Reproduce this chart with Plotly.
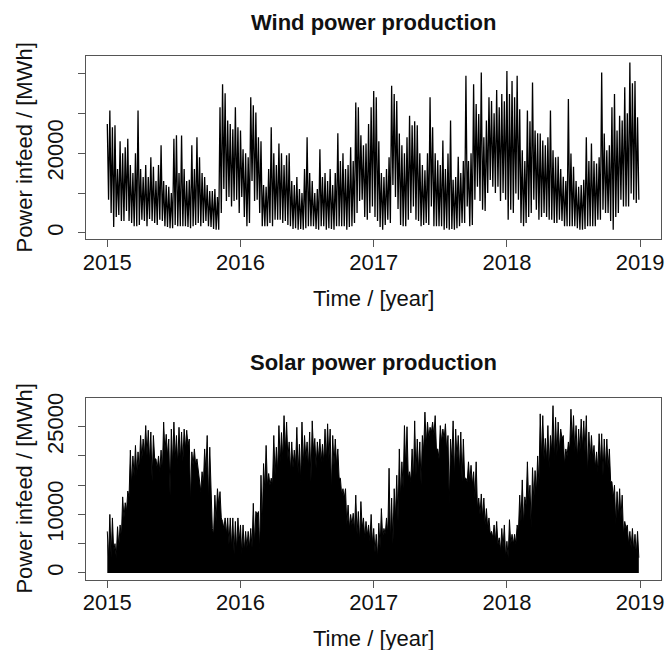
import numpy as np
import plotly.graph_objects as go

# Weekly peak / trough of hourly power infeed, in thousand MWh (52 weeks per year, 2015-2018)
START_YEAR = 2015
WEEKS_PER_YEAR = 52

wind_high = [
    27.3, 30.7, 26.5, 27.0, 16, 23, 20, 21.5, 23.6, 17, 15, 20, 30.7, 16, 14, 17, 14, 19, 16.6, 13,
    17, 22, 13, 12, 11.6, 10, 23.6, 24.5, 15, 24.4, 16, 13, 13.3, 22, 16, 24, 19, 15, 14, 12,
    10.5, 10.5, 11, 9, 31.5, 37.3, 35, 28.2, 27.3, 26, 31.5, 26.5,
    25.7, 21, 20, 19, 34, 32, 30.2, 24, 23, 12, 11.6, 16, 26.5, 20, 17, 22.4, 20, 17, 19.5, 20,
    13, 12, 14, 11, 10, 16, 24, 15, 13, 10, 11, 21, 14, 15, 13, 16, 12, 15, 25, 18,
    20, 16, 17, 21.5, 18, 32.7, 31.5, 24.5, 22, 22.4, 27.3, 31.5,
    35.6, 34, 23, 15, 14, 16, 19, 36.9, 34.8, 33.1, 24.9, 22, 20, 24, 29.4, 27, 28, 27, 20, 17,
    15.7, 20, 34, 26.5, 20, 18.2, 17, 23.2, 16, 19.9, 28.2, 13.3, 14, 19.1, 15, 18, 39.4, 18, 20, 37.3,
    32.3, 29.8, 40.2, 24, 28.2, 34, 33.1, 30, 35.8, 31.5, 34.8, 33,
    40.6, 34.8, 38.1, 34, 39.4, 31, 20.7, 18, 30.7, 28, 37.7, 25.7, 25, 24.9, 23.2, 22, 24, 30.7, 20.7, 19,
    19.1, 16, 14.1, 13, 33.6, 19.9, 16.6, 13, 11.6, 12, 13.3, 24, 18, 22.4, 18, 17.4, 19, 40.2, 24.9, 20.7,
    22, 31.5, 34.8, 25.7, 29.4, 28.2, 36.5, 30, 42.7, 37.5, 38.1, 29,
]
wind_low = [
    8.3, 5, 1.5, 4, 4.5, 3, 3, 5.5, 3, 2.5, 1.7, 1.7, 2, 3.3, 3, 1.7, 3.5, 3, 2.5, 2,
    3.3, 3, 1.7, 1.5, 1.2, 1.2, 2, 1.7, 1.7, 1.7, 1.7, 1.5, 1.2, 1.7, 2, 2.5, 1.7, 2.5, 3, 1.7,
    1.5, 1.0, 0.8, 0.8, 5, 11, 8, 9, 6.6, 8, 8.3, 5,
    9, 4, 1.7, 2.5, 13, 8, 8.3, 5, 1.7, 1.7, 1.7, 2.5, 1.7, 3.3, 3.3, 3.3, 2.5, 3, 2, 1.7,
    1, 1.2, 0.8, 1, 0.8, 1.2, 1.7, 1.7, 1.7, 1, 0.8, 1.7, 1.7, 0.8, 1.2, 1, 0.8, 1.7, 1.7, 1.7,
    1.7, 0.8, 1.5, 1.7, 2.5, 5, 8, 8.3, 4, 3.3, 5, 6.6,
    4, 3, 1.5, 0.8, 2, 3.3, 2.5, 12, 9, 6, 2, 1.7, 1.7, 3.3, 5, 6.6, 3.3, 3, 1.7, 2,
    2.5, 2, 6.6, 1.7, 1.7, 1.7, 1.7, 0.8, 1.2, 0.8, 1, 0.8, 1.2, 1.7, 2.5, 2.5, 6.6, 1.7, 2, 8.3,
    11.6, 8, 5.8, 5.5, 10, 13.3, 11.6, 10, 11.6, 8, 10, 8.3,
    3.3, 5.8, 5, 9.9, 8.3, 2.5, 1.7, 2.5, 4, 5, 8.3, 5.8, 3.3, 4, 5, 4, 3.3, 3.3, 2.5, 2.5,
    3.3, 3, 1.7, 1.7, 1.7, 1.7, 1.7, 1.2, 0.8, 0.8, 1, 1.7, 1.7, 1.7, 1.7, 3.3, 3.3, 5.8, 5, 5,
    3, 0.8, 4, 5, 8.3, 6.6, 6.6, 6.6, 9.9, 8.3, 7.5, 8.3,
]
solar_high = [
    7.1, 10, 9.4, 5, 7.9, 8.2, 13, 12, 14, 21, 20, 21.8, 20.7, 23.5, 22.9, 25.2, 24.4, 24.1, 23.5, 19.5,
    20, 21, 25.8, 23.7, 22.9, 24.6, 25.8, 23.5, 24.9, 24.1, 24.6, 24.4, 22.9, 20.7, 21.2, 19.5, 16.4, 17.3, 21.2, 23.5,
    21.5, 7.6, 13.3, 14.4, 13.9, 8.8, 9.4, 9.4, 9.4, 9.4, 8.8, 9.4,
    8.2, 8.2, 7.1, 7.1, 7.6, 11.9, 10.5, 10.5, 16.7, 18.7, 21.8, 17, 16.2, 23.5, 21.5, 25.2, 24, 26.9, 25.8, 22.4,
    22.4, 21, 24.9, 22, 25.8, 23.5, 22.4, 24.1, 26, 23, 22.4, 22.9, 22, 24.6, 25.5, 24.6, 23.5, 22.9, 21.2, 16.2,
    14.4, 14.4, 11.6, 10, 10.2, 13.3, 10.5, 12.2, 9.4, 8.8, 8.2, 10,
    7.6, 6.6, 8.5, 11, 7.6, 9.4, 17.9, 12.8, 14.4, 16.7, 21.2, 19, 25.2, 25, 17.3, 21.2, 26, 22.9, 22.4, 23.5,
    27.5, 25.8, 24.9, 25.8, 26.9, 21.2, 25.2, 24.6, 25.5, 23.5, 22.9, 26, 24.6, 23.5, 24.1, 22.9, 16.2, 19, 18.4, 17.3,
    19, 12.8, 13.5, 12.8, 11, 9.4, 7.1, 8.2, 8.8, 6, 7.6, 8.2,
    5.4, 9.1, 6.6, 6.6, 8.2, 13.3, 15.9, 13, 19, 15, 18, 17.5, 20, 27.2, 26.9, 23, 25.2, 23.5, 28.6, 26.6,
    25.8, 24.6, 23.5, 21.2, 22.4, 28, 26.9, 25.2, 24.6, 26.3, 26, 26.9, 24.1, 23.5, 21.8, 20.7, 23.8, 23.8, 22.9, 22.9,
    21.2, 15.6, 15, 13.9, 14.4, 13.3, 8.8, 8.2, 7.1, 7.6, 6.6, 7.1,
]
solar_low = [
    2.6, 2.6, 3.7, 2.6, 4.5, 6, 9.4, 10.5, 13, 15, 16.5, 16.8, 17.5, 19.5, 20, 20.1, 19, 15.6, 19.5, 17.8,
    17.3, 17.3, 20.7, 20, 13.3, 18.4, 19.5, 18.4, 19, 19, 21.2, 21.8, 12, 18.4, 18.4, 17.3, 13.9, 15, 17.3, 12.4,
    12, 6.6, 8.7, 11.6, 9.4, 7.6, 6.6, 4.9, 4.3, 3.2, 3.7, 5.4,
    3.2, 3.7, 4.3, 4.3, 4.3, 4.9, 10, 3.7, 8.2, 14, 15, 15, 15, 16.7, 17.3, 18.9, 19.5, 20.7, 19.5, 17.3,
    18, 18.4, 17, 15.6, 18.4, 19.5, 18, 15.6, 20.7, 18, 19.5, 18.9, 18.9, 18.9, 19.5, 13.9, 18.4, 18.4, 16.2, 13.3,
    12.8, 8.2, 7.6, 8.2, 7.1, 6.6, 5.4, 7.6, 6, 6.4, 5.4, 5,
    3.5, 2.6, 4.3, 6, 6.6, 6.6, 5.4, 4.9, 9.4, 8.8, 12.8, 14.4, 17.9, 16.2, 15.6, 15.6, 16.7, 17.3, 15, 20.7,
    21.8, 23, 24, 23.5, 21, 19.5, 22.4, 22.9, 20.7, 11.6, 18.9, 16.2, 19.5, 17.3, 15.6, 16.2, 15.6, 15.6, 15, 12.8,
    11, 10, 9.4, 8.2, 7.6, 6.6, 6, 5.4, 4.9, 3.7, 4.3, 2.6,
    2.6, 4.9, 4.9, 4.9, 7.1, 8.8, 8.2, 11.6, 12, 7.6, 12.4, 13.5, 15, 19.5, 19.5, 19, 17.9, 20.7, 19, 20,
    20.7, 22.9, 18.4, 20, 21, 22.4, 20.7, 19.5, 20.7, 21.2, 20.7, 16.7, 19.5, 19.5, 17.9, 17.3, 18.4, 16.7, 17.9, 17.9,
    15.6, 12.8, 8.2, 9.4, 9.4, 6.6, 7.6, 4.9, 4.3, 3.7, 3.2, 2.6,
]

year_ticks = [2015, 2016, 2017, 2018, 2019]
wind_ticks = [0, 10000, 20000, 30000, 40000]
wind_labels = ["0", "", "20000", "", ""]
solar_ticks = [0, 5000, 10000, 15000, 20000, 25000]
solar_labels = ["0", "", "10000", "", "", "25000"]


def weekly_series(high, low):
    """Interleave weekly peaks and troughs into one time-ordered line (MWh)."""
    vals = np.empty(2 * len(high))
    vals[0::2] = high
    vals[1::2] = low
    t = START_YEAR + np.arange(len(vals)) / (2 * WEEKS_PER_YEAR)
    return t, vals * 1000


wt, wv = weekly_series(wind_high, wind_low)
st, sv = weekly_series(solar_high, solar_low)

FONT = "Liberation Sans, Arial, sans-serif"
INK = "#111111"
FRAME = "#555555"
W, H = 667, 650

fig = go.Figure()
fig.add_trace(go.Scatter(x=wt, y=wv, mode="lines", line=dict(color="black", width=1.3),
                         xaxis="x", yaxis="y", hoverinfo="skip", showlegend=False))
fig.add_trace(go.Scatter(x=st, y=sv, mode="lines", line=dict(color="black", width=1),
                         fill="tozeroy", fillcolor="black",
                         xaxis="x2", yaxis="y2", hoverinfo="skip", showlegend=False))

x_dom = [84 / W, 664 / W]
wind_dom = [1 - 236 / H, 1 - 51.7 / H]
solar_dom = [1 - 579.3 / H, 1 - 395.7 / H]

common = dict(showline=True, mirror=True, linecolor=FRAME, linewidth=1,
              ticks="outside", ticklen=7, tickcolor=FRAME, tickwidth=1,
              showgrid=False, zeroline=False,
              tickfont=dict(family=FONT, size=22, color=INK))

xcommon = dict(common, range=[2014.842, 2019.157], tickvals=year_ticks,
               ticktext=[str(y) for y in year_ticks], domain=x_dom,
               ticklabelstandoff=-4, ticklabeloverflow="allow")

fig.update_layout(
    width=W, height=H, margin=dict(l=0, r=0, t=0, b=0),
    paper_bgcolor="white", plot_bgcolor="white", showlegend=False,
    xaxis=dict(xcommon, anchor="y"),
    yaxis=dict(common, domain=wind_dom, anchor="x", range=[-1567, 44279],
               tickvals=wind_ticks, ticktext=wind_labels, tickangle=-90, ticklabelstandoff=6),
    xaxis2=dict(xcommon, anchor="y2"),
    yaxis2=dict(common, domain=solar_dom, anchor="x2", range=[-1188, 29973],
                tickvals=solar_ticks, ticktext=solar_labels, tickangle=-90, ticklabelstandoff=6),
)

cx = (84 + 664) / 2 / W
ann = []
for title, ty, xt_y, mid in [("Wind power production", 18, 296, (51.7 + 236) / 2),
                             ("Solar power production", 360, 638, (395.7 + 579.3) / 2)]:
    ann.append(dict(text="<b>%s</b>" % title, x=cx, y=1 - ty / H, xref="paper", yref="paper",
                    showarrow=False, xanchor="center", yanchor="middle",
                    font=dict(family=FONT, size=22, color=INK)))
    ann.append(dict(text="Time / [year]", x=cx, y=1 - xt_y / H, xref="paper", yref="paper",
                    showarrow=False, xanchor="center", yanchor="middle",
                    font=dict(family=FONT, size=22, color=INK)))
    ann.append(dict(text="Power infeed / [MWh]", x=22 / W, y=1 - mid / H, xref="paper", yref="paper",
                    showarrow=False, xanchor="center", yanchor="middle", textangle=-90,
                    font=dict(family=FONT, size=22, color=INK)))
fig.update_layout(annotations=ann)

fig.write_html("out.html")
